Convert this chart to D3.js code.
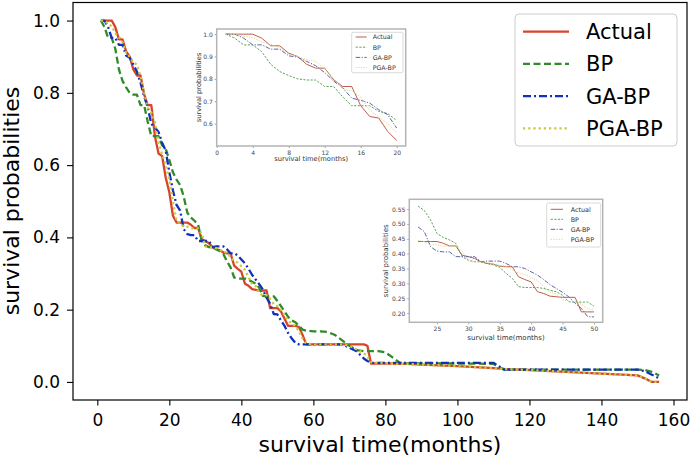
<!DOCTYPE html>
<html><head><meta charset="utf-8">
<script src="https://cdn.jsdelivr.net/npm/d3@7/dist/d3.min.js"></script>
<style>
html,body{margin:0;padding:0;background:#fff;}
text{font-family:"DejaVu Sans",sans-serif;}
</style></head>
<body><svg id="c" width="691" height="464"></svg>
<script>
// ---- data ----
const months = [1,2,3,4,5,6,7,8,9,10,11,12,13,14,15,16,17,18,19,20,21,22,23,24,25,26,27,28,29,30,
  31,32,33,34,35,36,37,38,39,40,41,42,43,44,45,46,47,48,49,50,
  51,52,53,54,55,56,57,58,60,62,64,66,68,70,72,74,75,76,78,80,82,84,86,90,100,110,113,120,130,140,150,152,154,156];
const actual = [1.0,1.0,1.0,1.0,0.982,0.948,0.948,0.915,0.9,0.865,0.848,0.848,0.796,0.766,0.766,0.68,0.632,0.625,0.565,0.525,0.46,
  0.441,0.441,0.441,0.441,0.435,0.426,0.426,0.395,0.39,0.384,0.373,0.367,0.365,0.358,0.356,0.356,0.322,0.313,0.305,
  0.272,0.266,0.257,0.255,0.253,0.253,0.253,0.204,0.204,0.204,
  0.195,0.175,0.155,0.155,0.155,0.152,0.13,0.104,0.104,0.104,0.104,0.104,0.104,0.104,0.104,0.104,0.1,0.051,0.051,0.051,0.051,0.05,0.05,0.048,0.044,0.038,0.036,0.033,0.028,0.023,0.018,0.01,0.0,0.0];
const bp = [1.0,0.982,0.952,0.952,0.922,0.865,0.833,0.815,0.8,0.795,0.795,0.766,0.766,0.72,0.68,0.68,0.68,0.655,0.645,0.614,0.58,
  0.56,0.545,0.513,0.468,0.455,0.446,0.435,0.39,0.378,0.373,0.373,0.367,0.362,0.354,0.334,0.317,0.289,0.286,0.286,
  0.286,0.283,0.277,0.272,0.26,0.238,0.237,0.237,0.237,0.224,
  0.21,0.195,0.18,0.17,0.165,0.155,0.145,0.142,0.14,0.14,0.138,0.13,0.115,0.1,0.088,0.085,0.085,0.085,0.085,0.082,0.068,0.053,0.051,0.051,0.051,0.05,0.034,0.034,0.034,0.034,0.034,0.033,0.028,0.018];
const gabp = [1.0,1.0,0.982,0.952,0.952,0.933,0.933,0.903,0.897,0.878,0.859,0.828,0.79,0.76,0.714,0.704,0.692,0.662,0.64,0.58,0.53,
  0.49,0.474,0.423,0.409,0.406,0.406,0.39,0.39,0.39,0.39,0.373,0.375,0.375,0.375,0.367,0.356,0.356,0.35,0.339,
  0.328,0.313,0.296,0.283,0.27,0.255,0.233,0.216,0.188,0.187,
  0.17,0.155,0.135,0.12,0.108,0.104,0.104,0.104,0.104,0.104,0.104,0.104,0.104,0.095,0.085,0.065,0.058,0.053,0.053,0.053,0.053,0.053,0.053,0.053,0.053,0.053,0.034,0.034,0.034,0.034,0.034,0.03,0.02,0.01];
const pgabp = [1.0,1.0,0.99,0.985,0.965,0.955,0.94,0.91,0.9,0.885,0.878,0.845,0.8,0.758,0.745,0.72,0.66,0.63,0.6,0.56,0.5,
  0.445,0.44,0.43,0.43,0.425,0.425,0.425,0.41,0.375,0.372,0.372,0.37,0.365,0.36,0.358,0.345,0.335,0.33,0.32,
  0.31,0.29,0.27,0.265,0.245,0.24,0.24,0.23,0.215,0.21,
  0.2,0.185,0.17,0.16,0.155,0.14,0.12,0.106,0.104,0.104,0.104,0.104,0.104,0.1,0.09,0.08,0.07,0.055,0.052,0.052,0.051,0.05,0.05,0.048,0.044,0.038,0.036,0.033,0.028,0.023,0.018,0.01,0.0,0.0];
const seriesNames = ["Actual","BP","GA-BP","PGA-BP"];
const xTicksMain = [0,20,40,60,80,100,120,140,160];
const yTicksMain = [0.0,0.2,0.4,0.6,0.8,1.0];
const xTicksIn1 = [0,4,8,12,16,20];
const yTicksIn1 = [0.6,0.7,0.8,0.9,1.0];
const xTicksIn2 = [25,30,35,40,45,50];
const yTicksIn2 = [0.20,0.25,0.30,0.35,0.40,0.45,0.50,0.55];

// ---- styles ----
const mainStyle = [
  {color:"#d8442b", dash:null, w:2.3},
  {color:"#2f8a2a", dash:"7,3.5", w:2.3},
  {color:"#1231b8", dash:"8,3,2,3", w:2.3},
  {color:"#c9c83e", dash:"2.2,3", w:2.3}
];
const inStyle = [
  {color:"#bc5e4c", dash:null, w:1},
  {color:"#5da35a", dash:"2.2,1.4", w:1},
  {color:"#5c66aa", dash:"4.5,1.5,1.2,1.5", w:1},
  {color:"#dcd98f", dash:"1.3,1.3", w:1}
];
const allVals = [actual,bp,gabp,pgabp];
const data = allVals.map(v => months.map((m,i)=>({t:m, v:v[i]})));

const svg = d3.select("#c");
svg.append("rect").attr("width",691).attr("height",464).attr("fill","#fff");

// ---- main axes ----
const x = d3.scaleLinear().domain([-6.75,163.75]).range([73,687]);
const y = d3.scaleLinear().domain([-0.05,1.05]).range([400,2.5]);

const gx = svg.append("g").attr("transform","translate(0,400)")
  .call(d3.axisBottom(x).tickValues(xTicksMain).tickFormat(d3.format("d")).tickSize(5.5).tickPadding(8));
const gy = svg.append("g").attr("transform","translate(73,0)")
  .call(d3.axisLeft(y).tickValues(yTicksMain).tickFormat(d3.format(".1f")).tickSize(6).tickPadding(7));
[gx,gy].forEach(g=>{
  g.select(".domain").remove();
  g.selectAll(".tick line").attr("stroke","#000").attr("stroke-width",1.1);
  g.selectAll(".tick text").attr("fill","#000").style("font-size","17px").style("font-family","DejaVu Sans");
});

const clipM = svg.append("clipPath").attr("id","clipM").append("rect")
  .attr("x",73).attr("y",2.5).attr("width",614).attr("height",397.5);
const lineM = d3.line().x(d=>x(d.t)).y(d=>y(d.v));
const gm = svg.append("g").attr("clip-path","url(#clipM)");
data.forEach((d,i)=>{
  const s = mainStyle[i];
  gm.append("path").datum(d).attr("d",lineM).attr("fill","none")
    .attr("stroke",s.color).attr("stroke-width",s.w)
    .attr("stroke-dasharray",s.dash).attr("stroke-linejoin","round");
});
svg.append("rect").attr("x",73).attr("y",2.5).attr("width",614).attr("height",397.5)
  .attr("fill","none").attr("stroke","#000").attr("stroke-width",1.2);

svg.append("text").attr("x",380).attr("y",452).attr("text-anchor","middle")
  .style("font-size","22px").text("survival time(months)");
svg.append("text").attr("transform","translate(18.5,201) rotate(-90)").attr("text-anchor","middle")
  .style("font-size","22px").text("survival probabilities");

// main legend
const lg = svg.append("g");
lg.append("rect").attr("x",515).attr("y",14).attr("width",162).attr("height",132).attr("rx",4)
  .attr("fill","#fff").attr("fill-opacity",0.85).attr("stroke","#cccccc").attr("stroke-width",1);
seriesNames.forEach((n,i)=>{
  const yy = 31.7 + i*32.2;
  const s = mainStyle[i];
  lg.append("line").attr("x1",523).attr("x2",569).attr("y1",yy).attr("y2",yy)
    .attr("stroke",s.color).attr("stroke-width",s.w).attr("stroke-dasharray",s.dash);
  lg.append("text").attr("x",586).attr("y",yy+7.5).style("font-size","21px").text(n);
});

// ---- inset builder ----
function inset(cfg){
  const ix = d3.scaleLinear().domain(cfg.xd).range([cfg.x0,cfg.x1]);
  const iy = d3.scaleLinear().domain(cfg.yd).range([cfg.y1,cfg.y0]);
  const g = svg.append("g");
  g.append("rect").attr("x",cfg.x0).attr("y",cfg.y0).attr("width",cfg.x1-cfg.x0).attr("height",cfg.y1-cfg.y0).attr("fill","#fff");
  const ax = g.append("g").attr("transform",`translate(0,${cfg.y1})`)
    .call(d3.axisBottom(ix).tickValues(cfg.xt).tickFormat(cfg.xf).tickSize(2).tickPadding(2.5));
  const ay = g.append("g").attr("transform",`translate(${cfg.x0},0)`)
    .call(d3.axisLeft(iy).tickValues(cfg.yt).tickFormat(cfg.yf).tickSize(2).tickPadding(2));
  [ax,ay].forEach(a=>{
    a.select(".domain").remove();
    a.selectAll(".tick line").attr("stroke","#888").attr("stroke-width",0.8);
    a.selectAll(".tick text").attr("fill","#444").style("font-size",cfg.fs+"px").style("font-family","DejaVu Sans");
  });
  const cid = "clip"+cfg.id;
  svg.append("clipPath").attr("id",cid).append("rect")
    .attr("x",cfg.x0).attr("y",cfg.y0).attr("width",cfg.x1-cfg.x0).attr("height",cfg.y1-cfg.y0);
  const ln = d3.line().x(d=>ix(d.t)).y(d=>iy(d.v));
  const gl = g.append("g").attr("clip-path",`url(#${cid})`);
  data.forEach((d,i)=>{
    const s = inStyle[i];
    gl.append("path").datum(d.filter(p=>p.t>=cfg.tr[0]&&p.t<=cfg.tr[1])).attr("d",ln).attr("fill","none")
      .attr("stroke",s.color).attr("stroke-width",s.w).attr("stroke-dasharray",s.dash);
  });
  g.append("rect").attr("x",cfg.x0).attr("y",cfg.y0).attr("width",cfg.x1-cfg.x0).attr("height",cfg.y1-cfg.y0)
    .attr("fill","none").attr("stroke","#b4b4b4").attr("stroke-width",1.5);
  g.append("text").attr("x",(cfg.x0+cfg.x1)/2).attr("y",cfg.xlY).attr("text-anchor","middle")
    .attr("fill","#333").style("font-size",cfg.lfs+"px").text("survival time(months)");
  g.append("text").attr("transform",`translate(${cfg.ylX},${(cfg.y0+cfg.y1)/2}) rotate(-90)`).attr("text-anchor","middle")
    .attr("fill","#333").style("font-size",cfg.lfs+"px").text("survival probabilities");
  // legend
  const L = cfg.leg;
  g.append("rect").attr("x",L.x0).attr("y",L.y0).attr("width",L.x1-L.x0).attr("height",L.y1-L.y0).attr("rx",1.5)
    .attr("fill","#fff").attr("fill-opacity",0.85).attr("stroke","#d0d0d0").attr("stroke-width",0.8);
  seriesNames.forEach((n,i)=>{
    const yy = L.ys + i*L.dy;
    const s = inStyle[i];
    g.append("line").attr("x1",L.lx0).attr("x2",L.lx1).attr("y1",yy).attr("y2",yy)
      .attr("stroke",s.color).attr("stroke-width",s.w).attr("stroke-dasharray",s.dash);
    g.append("text").attr("x",L.tx).attr("y",yy+2.3).attr("fill","#333").style("font-size",L.fs+"px").text(n);
  });
}

inset({id:1, x0:216.7, x1:405.7, y0:29, y1:146, xd:[0,21], yd:[0.5,1.023], tr:[1,20],
  xt:xTicksIn1, yt:yTicksIn1, xf:d3.format("d"), yf:d3.format(".1f"), fs:6, lfs:6.7, xlY:161, ylX:200.5,
  leg:{x0:351.7,x1:403,y0:32.3,y1:72.7, ys:37, dy:10.2, lx0:355.7, lx1:366.7, tx:372.7, fs:6.3}});

inset({id:2, x0:409.3, x1:602.7, y0:199.3, y1:322.3, xd:[20.6,51.4], yd:[0.169,0.583], tr:[22,50],
  xt:xTicksIn2, yt:yTicksIn2, xf:d3.format("d"), yf:d3.format(".2f"), fs:6, lfs:7, xlY:339.5, ylX:388,
  leg:{x0:546.7,x1:600.7,y0:203,y1:247, ys:209.3, dy:10, lx0:550.7, lx1:563, tx:570.7, fs:6.4}});
</script>
</body></html>
